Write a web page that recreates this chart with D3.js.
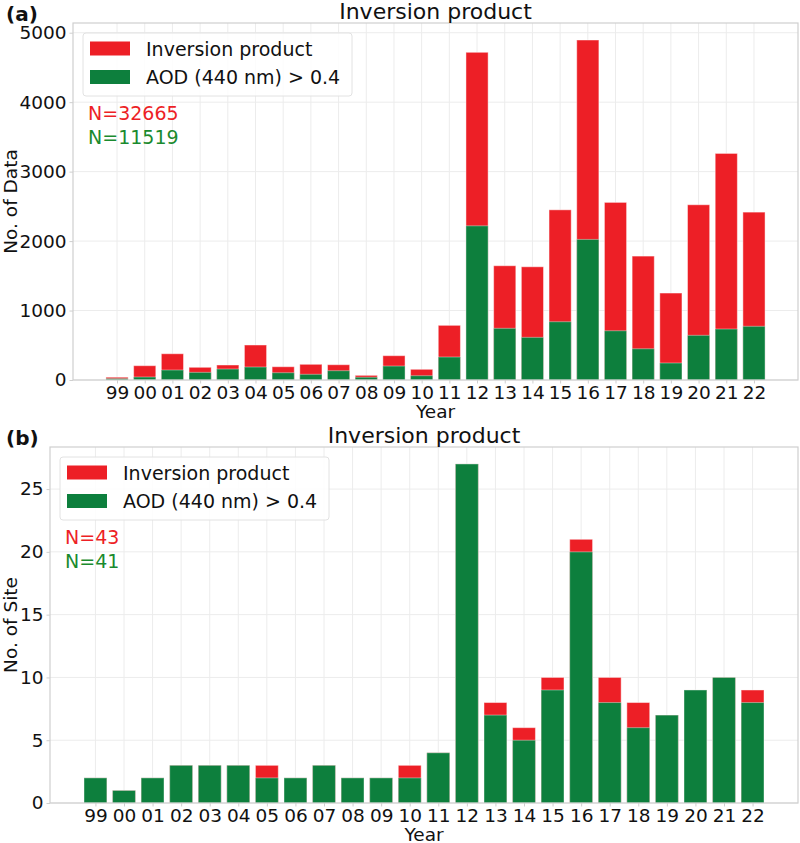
<!DOCTYPE html>
<html>
<head>
<meta charset="utf-8">
<script src="https://cdn.jsdelivr.net/npm/d3@7"></script>
<style>
  html, body { margin: 0; padding: 0; background: #fff; }
  svg { display: block; font-family: "DejaVu Sans", sans-serif; }
</style>
</head>
<body>
<svg id="chart" width="800" height="843"></svg>
<script>
// ---- data ----
const years = ["99","00","01","02","03","04","05","06","07","08","09","10","11","12","13","14","15","16","17","18","19","20","21","22"];
const dataInversion = [40,206,378,183,216,504,191,226,220,67,350,154,787,4718,1645,1630,2450,4895,2557,1784,1252,2523,3262,2417];
const dataAOD = [20,43,144,110,158,187,105,82,134,40,201,62,331,2220,744,614,839,2024,709,450,245,643,734,773];
const siteInversion = [2,1,2,3,3,3,3,2,3,2,2,3,4,27,8,6,10,21,10,8,7,9,10,9];
const siteAOD = [2,1,2,3,3,3,2,2,3,2,2,2,4,27,7,5,9,20,8,6,7,9,10,8];
const dataTicks = [0,1000,2000,3000,4000,5000];
const siteTicks = [0,5,10,15,20,25];
const legendLabels = ["Inversion product", "AOD (440 nm) > 0.4"];
const panelA = {tag:"(a)", title:"Inversion product", ylabel:"No. of Data", total:dataInversion, sub:dataAOD, ticks:dataTicks, nTotal:"N=32665", nSub:"N=11519"};
const panelB = {tag:"(b)", title:"Inversion product", ylabel:"No. of Site", total:siteInversion, sub:siteAOD, ticks:siteTicks, nTotal:"N=43", nSub:"N=41"};

const RED = "#ed1f26", GREEN = "#0d7f3d";
const svg = d3.select("#chart");

function panel(p, box) {
  const g = svg.append("g");
  const n = years.length;
  const x = d3.scaleLinear().domain([-0.4 - 0.05*(n-0.2), n-0.6 + 0.05*(n-0.2)]).range([box.left, box.right]);
  const ymax = d3.max(p.total) * 1.05;
  const y = d3.scaleLinear().domain([0, ymax]).range([box.bottom, box.top]);
  const bw = x(0.8) - x(0);

  // grid
  g.append("g").selectAll("line.v").data(years).join("line")
    .attr("x1", (d,i)=>x(i)).attr("x2",(d,i)=>x(i))
    .attr("y1", box.top).attr("y2", box.bottom)
    .attr("stroke", "#ececec").attr("stroke-width", 1);
  g.append("g").selectAll("line.h").data(p.ticks).join("line")
    .attr("x1", box.left).attr("x2", box.right)
    .attr("y1", d=>y(d)).attr("y2", d=>y(d))
    .attr("stroke", "#ececec").attr("stroke-width", 1);

  // bars
  g.append("g").selectAll("rect").data(p.total).join("rect")
    .attr("x", (d,i)=>x(i)-bw/2).attr("width", bw)
    .attr("y", d=>y(d)).attr("height", d=>y(0)-y(d))
    .attr("fill", RED).attr("stroke", "rgba(255,255,255,0.45)").attr("stroke-width", 1);
  g.append("g").selectAll("rect").data(p.sub).join("rect")
    .attr("x", (d,i)=>x(i)-bw/2).attr("width", bw)
    .attr("y", d=>y(d)).attr("height", d=>y(0)-y(d))
    .attr("fill", GREEN).attr("stroke", "rgba(255,255,255,0.4)").attr("stroke-width", 1);

  // frame
  g.append("rect").attr("x", box.left).attr("y", box.top)
    .attr("width", box.right-box.left).attr("height", box.bottom-box.top)
    .attr("fill", "none").attr("stroke", "#cfcfcf").attr("stroke-width", 1.2);

  // axes
  const xa = g.append("g").attr("transform", `translate(0,${box.bottom})`)
    .call(d3.axisBottom(x).tickValues(d3.range(n)).tickFormat(i=>years[i]).tickSize(3.5).tickPadding(2));
  const ya = g.append("g").attr("transform", `translate(${box.left},0)`)
    .call(d3.axisLeft(y).tickValues(p.ticks).tickFormat(d3.format("d")).tickSize(3.5).tickPadding(3));
  [xa, ya].forEach(a => {
    a.select(".domain").remove();
    a.selectAll(".tick line").attr("stroke", "#cfcfcf");
    a.selectAll(".tick text").attr("font-size", 18.5).attr("fill", "#111")
      .attr("font-family", "DejaVu Sans");
  });

  // titles and labels
  svg.append("text").attr("x", (box.left+box.right)/2).attr("y", box.top-4)
    .attr("text-anchor", "middle").attr("font-size", 22).attr("fill", "#111").text(p.title);
  svg.append("text").attr("x", 6).attr("y", box.top-2)
    .attr("font-size", 20).attr("font-weight", "bold").attr("fill", "#111").text(p.tag);
  svg.append("text").attr("x", (box.left+box.right)/2).attr("y", box.bottom+38)
    .attr("text-anchor", "middle").attr("font-size", 18.5).attr("fill", "#111").text("Year");
  svg.append("text").attr("transform", `translate(17,${(box.top+box.bottom)/2}) rotate(-90)`)
    .attr("text-anchor", "middle").attr("font-size", 18.5).attr("fill", "#111").text(p.ylabel);

  // legend
  const lx = box.left + 10, ly = box.top + 10;
  const lg = svg.append("g");
  lg.append("rect").attr("x", lx).attr("y", ly).attr("width", 269).attr("height", 63)
    .attr("rx", 3).attr("fill", "#fff").attr("fill-opacity", 0.85).attr("stroke", "#e2e2e2");
  [RED, GREEN].forEach((c, i) => {
    lg.append("rect").attr("x", lx+7).attr("y", ly+8.5+i*28.5).attr("width", 40).attr("height", 14)
      .attr("fill", c);
    lg.append("text").attr("x", lx+63).attr("y", ly+22.5+i*28.5)
      .attr("font-size", 19).attr("fill", "#111").text(legendLabels[i]);
  });
  svg.append("text").attr("x", lx+5).attr("y", ly+87).attr("font-size", 19).attr("fill", RED).text(p.nTotal);
  svg.append("text").attr("x", lx+5).attr("y", ly+111).attr("font-size", 19).attr("fill", "#1a8a2e").text(p.nSub);
}

panel(panelA, {left:73, right:798, top:23, bottom:380});
panel(panelB, {left:50, right:798, top:447, bottom:803});
</script>
</body>
</html>
